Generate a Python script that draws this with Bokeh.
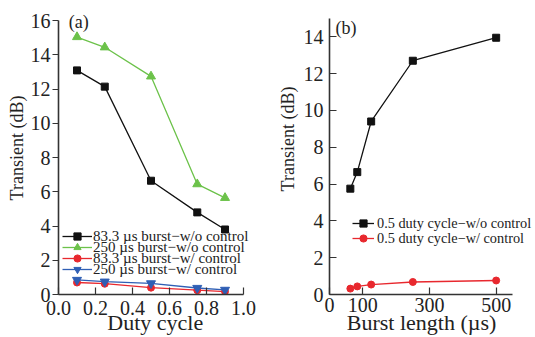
from bokeh.plotting import figure
from bokeh.layouts import row
from bokeh.models import Label, Legend, LegendItem, FixedTicker
from bokeh.embed import file_html
from bokeh.resources import INLINE

# ---------------- data ----------------
duty = [0.1, 0.25, 0.5, 0.75, 0.9]
a_83_wo = [13.1, 12.15, 6.65, 4.8, 3.8]
a_250_wo = [15.05, 14.45, 12.75, 6.45, 5.65]
a_83_w = [0.7, 0.63, 0.4, 0.25, 0.17]
a_250_w = [0.85, 0.75, 0.65, 0.38, 0.27]

burst = [62.5, 83.3, 125, 250, 500]
b_wo = [5.75, 6.65, 9.4, 12.7, 13.95]
b_w = [0.32, 0.44, 0.54, 0.68, 0.76]

a_xticks = [0.0, 0.2, 0.4, 0.6, 0.8, 1.0]
a_xlabels = ["0.0", "0.2", "0.4", "0.6", "0.8", "1.0"]
a_yticks = [0, 2, 4, 6, 8, 10, 12, 14, 16]
b_xticks = [0, 100, 300, 500]
b_yticks = [0, 2, 4, 6, 8, 10, 12, 14]

a_names = ["83.3 \u00b5s burst\u2212w/o control", "250 \u00b5s burst\u2212w/o control",
           "83.3 \u00b5s burst\u2212w/ control", "250 \u00b5s burst\u2212w/ control"]
b_names = ["0.5 duty cycle\u2212w/o control", "0.5 duty cycle\u2212w/ control"]

BLACK = "#111111"
GREEN = "#6cc24a"
RED = "#e8282e"
BLUE = "#2f5fb5"
AX = "#333333"
TXT = "#222222"
FONT = "Liberation Serif"
NB = "\u00a0"


def style(p, tick_in_y, tick_out_y, ystand, ylab_stand, xstand, xlab_stand):
    p.xgrid.grid_line_color = None
    p.ygrid.grid_line_color = None
    p.outline_line_color = None
    p.background_fill_color = "white"
    p.border_fill_color = "white"
    for ax in (p.xaxis[0], p.yaxis[0]):
        ax.axis_line_color = AX
        ax.axis_line_width = 1.6
        ax.major_tick_line_color = AX
        ax.major_tick_line_width = 1.2
        ax.minor_tick_line_color = None
        ax.major_label_text_font = FONT
        ax.major_label_text_font_size = "20px"
        ax.major_label_text_color = TXT
        ax.axis_label_text_font = FONT
        ax.axis_label_text_font_style = "normal"
        ax.axis_label_text_color = TXT
    p.xaxis[0].major_tick_in = 7
    p.xaxis[0].major_tick_out = 0
    p.xaxis[0].major_label_standoff = xstand
    p.xaxis[0].axis_label_standoff = xlab_stand
    p.xaxis[0].axis_label_text_font_size = "22px"
    p.yaxis[0].major_tick_in = tick_in_y
    p.yaxis[0].major_tick_out = tick_out_y
    p.yaxis[0].major_label_standoff = ystand
    p.yaxis[0].axis_label_standoff = ylab_stand
    p.yaxis[0].axis_label_text_font_size = "18px"


def one_legend(p, label, renderers, loc, gw, std, fsize):
    return Legend(items=[LegendItem(label=label, renderers=renderers)],
                  location=loc, padding=0, margin=0, spacing=0,
                  glyph_width=gw, glyph_height=18, label_height=18, label_standoff=std,
                  label_text_font=FONT, label_text_font_size=fsize, label_text_color=TXT,
                  background_fill_alpha=0, border_line_alpha=0)


# ---------------- panel (a) ----------------
p1 = figure(width=270, height=337, x_range=(0, 1.135), y_range=(0, 16.6),
            output_backend="svg", toolbar_location=None,
            min_border_left=58, min_border_right=2, min_border_top=10, min_border_bottom=43)
style(p1, 0, 6, 2, 1, 6, -8)
p1.xaxis[0].bounds = (0, 1)
p1.yaxis[0].bounds = (0, 16)
p1.xaxis[0].ticker = FixedTicker(ticks=a_xticks)
p1.xaxis[0].major_label_overrides = {t: l for t, l in zip(a_xticks, a_xlabels)}
p1.yaxis[0].ticker = FixedTicker(ticks=a_yticks)
p1.xaxis[0].axis_label = "Duty cycle" + NB * 3
p1.yaxis[0].axis_label = NB * 2 + "Transient (dB)"

l1 = p1.line(duty, a_83_wo, line_color=BLACK, line_width=1.3)
s1 = p1.scatter(duty, a_83_wo, marker="square", size=7, color=BLACK)
l2 = p1.line(duty, a_250_wo, line_color=GREEN, line_width=1.3)
s2 = p1.scatter(duty, a_250_wo, marker="triangle", size=9, color=GREEN)
l3 = p1.line(duty, a_83_w, line_color=RED, line_width=1.3)
s3 = p1.scatter(duty, a_83_w, marker="circle", size=7, color=RED)
l4 = p1.line(duty, a_250_w, line_color=BLUE, line_width=1.3)
s4 = p1.scatter(duty, a_250_w, marker="inverted_triangle", size=9, color=BLUE)

a_rends = [[l1, s1], [l2, s2], [l3, s3], [l4, s4]]
a_legy = [49, 38, 27, 16]
for name, rs, vy in zip(a_names, a_rends, a_legy):
    p1.add_layout(one_legend(p1, name, rs, (4, vy), 30, 1, "15px"))

p1.add_layout(Label(x=0.055, y=15.9, text="(a)", text_align="left",
                    text_baseline="middle", text_font=FONT,
                    text_font_size="18px", text_color=TXT))

# ---------------- panel (b) ----------------
p2 = figure(width=265, height=337, x_range=(0, 618), y_range=(0, 15.43),
            output_backend="svg", toolbar_location=None,
            min_border_left=59, min_border_right=0, min_border_top=10, min_border_bottom=43)
style(p2, 7, 0, 6, 3, 3, -5)
p2.xaxis[0].bounds = (0, 550)
p2.yaxis[0].bounds = (0, 15)
p2.xaxis[0].ticker = FixedTicker(ticks=b_xticks)
p2.yaxis[0].ticker = FixedTicker(ticks=b_yticks)
p2.xaxis[0].axis_label = "Burst length (\u00b5s)" + NB * 4
p2.yaxis[0].axis_label = NB * 6 + "Transient (dB)"

m1 = p2.line(burst, b_wo, line_color=BLACK, line_width=1.3)
n1 = p2.scatter(burst, b_wo, marker="square", size=7, color=BLACK)
m2 = p2.line(burst, b_w, line_color=RED, line_width=1.3)
n2 = p2.scatter(burst, b_w, marker="circle", size=7, color=RED)

b_rends = [[m1, n1], [m2, n2]]
b_legy = [62, 47]
for name, rs, vy in zip(b_names, b_rends, b_legy):
    p2.add_layout(one_legend(p2, name, rs, (23, vy), 22, 3, "14.3px"))

p2.add_layout(Label(x=18, y=14.46, text="(b)", text_align="left",
                    text_baseline="middle", text_font=FONT,
                    text_font_size="18px", text_color=TXT))

layout = row(p1, p2)
open("out.html", "w").write(file_html(layout, INLINE))
